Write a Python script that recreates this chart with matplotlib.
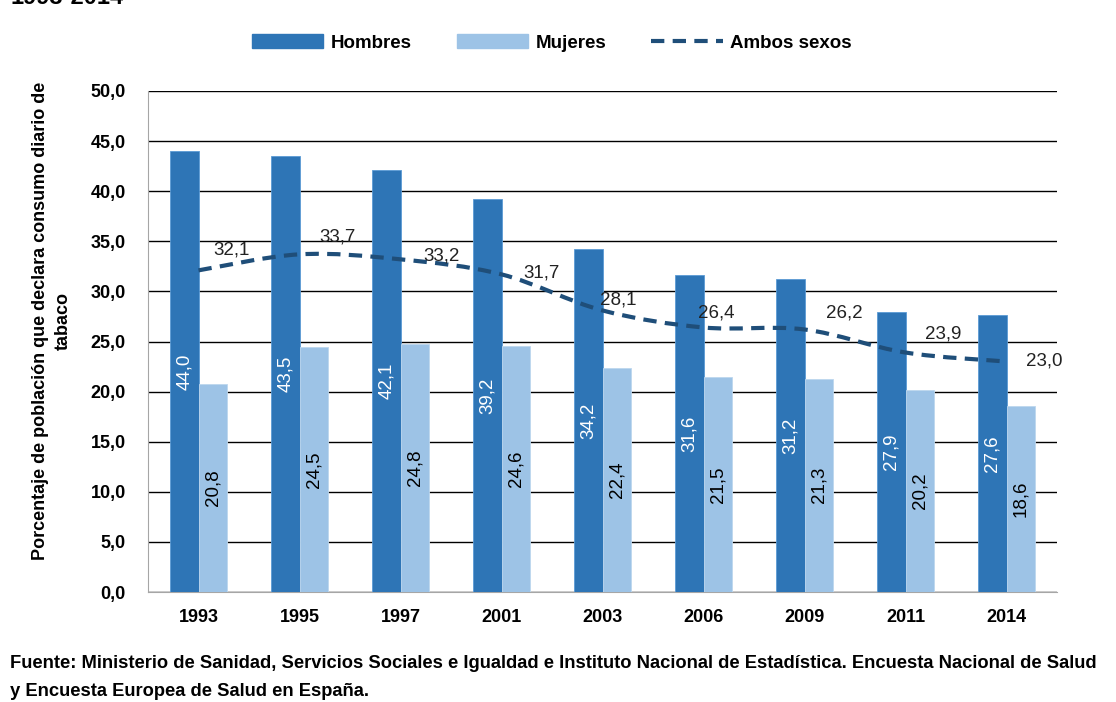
import matplotlib
matplotlib.use("Agg")
import matplotlib.pyplot as plt
from matplotlib.path import Path
from matplotlib.patches import PathPatch
from matplotlib.lines import Line2D
from matplotlib.patches import Patch
import numpy as np

plt.rcParams['font.family'] = ['Liberation Sans', 'DejaVu Sans']

years = ['1993', '1995', '1997', '2001', '2003', '2006', '2009', '2011', '2014']
hombres = [44.0, 43.5, 42.1, 39.2, 34.2, 31.6, 31.2, 27.9, 27.6]
mujeres = [20.8, 24.5, 24.8, 24.6, 22.4, 21.5, 21.3, 20.2, 18.6]
ambos = [32.1, 33.7, 33.2, 31.7, 28.1, 26.4, 26.2, 23.9, 23.0]

# label offsets (pixels) for the line labels
line_label_offsets = [(33, 20), (38, 17), (41, 3), (40, 1), (16, 10), (13, 14), (40, 16), (38, 19), (38, 1)]

c_h = '#2E75B6'
c_m = '#9DC3E6'
c_a = '#1F4E79'

def fmt(v):
    return f"{v:.1f}".replace('.', ',')

fig = plt.figure(figsize=(11.16, 7.02), dpi=100)
ax = fig.add_axes([148/1116, 1-592/702, (1057-148)/1116, (592-91)/702])

x = np.arange(len(years))
w = 0.28
ax.bar(x - w/2, hombres, w, color=c_h, edgecolor='#5B9BD5', linewidth=0.6, zorder=3)
ax.bar(x + w/2, mujeres, w, color=c_m, edgecolor='#BDD7EE', linewidth=0.6, zorder=3)

for xi, v in zip(x, hombres):
    ax.text(xi - w/2, v/2, fmt(v), rotation=90, ha='center', va='center', color='white', fontsize=13.5, zorder=5)
for xi, v in zip(x, mujeres):
    ax.text(xi + w/2, v/2, fmt(v), rotation=90, ha='center', va='center', color='black', fontsize=13.5, zorder=5)

# smooth line (Catmull-Rom -> cubic Bezier), through data points
pts = np.column_stack([x, ambos]).astype(float)
verts = [tuple(pts[0])]
codes = [Path.MOVETO]
n = len(pts)
for i in range(n - 1):
    p0 = pts[i - 1] if i > 0 else pts[i]
    p1 = pts[i]
    p2 = pts[i + 1]
    p3 = pts[i + 2] if i + 2 < n else pts[i + 1]
    c1 = p1 + (p2 - p0) / 6.0
    c2 = p2 - (p3 - p1) / 6.0
    verts += [tuple(c1), tuple(c2), tuple(p2)]
    codes += [Path.CURVE4, Path.CURVE4, Path.CURVE4]
patch = PathPatch(Path(verts, codes), facecolor='none', edgecolor=c_a, linewidth=3.0,
                  linestyle=(0, (3.2, 2.0)), zorder=4)
ax.add_patch(patch)

for xi, v, (dx, dy) in zip(x, ambos, line_label_offsets):
    ax.annotate(fmt(v), (xi, v), xytext=(dx, dy), textcoords='offset pixels',
                ha='center', va='center', fontsize=13.5, color='#222222', zorder=6)

ax.set_xlim(-0.5, len(years) - 0.5)
ax.set_ylim(0, 50)
ax.set_yticks(np.arange(0, 50.1, 5))
ax.set_yticklabels([fmt(v) for v in np.arange(0, 50.1, 5)], fontsize=13, fontweight='bold')
ax.set_xticks(x)
ax.set_xticklabels(years, fontsize=13, fontweight='bold')
ax.tick_params(axis='x', length=0, pad=12)
ax.tick_params(axis='y', length=0, pad=16)
ax.yaxis.grid(True, color='black', linewidth=1.0, zorder=0)
ax.set_axisbelow(True)
for s in ['top', 'right']:
    ax.spines[s].set_visible(False)
ax.spines['left'].set_color('#A6A6A6')
ax.spines['bottom'].set_color('#A6A6A6')

fig.text(52/1116, 1-321/702, 'Porcentaje de población que declara consumo diario de\ntabaco',
         fontsize=13, fontweight='bold', rotation=90, ha='center', va='center',
         multialignment='center', linespacing=1.45)

handles = [Patch(facecolor=c_h, edgecolor=c_h), Patch(facecolor=c_m, edgecolor=c_m),
           Line2D([0], [0], color=c_a, linewidth=3.0, linestyle=(0, (3.2, 2.0)))]
leg = fig.legend(handles, ['Hombres', 'Mujeres', 'Ambos sexos'], loc='center',
                 bbox_to_anchor=(552/1116, 1-43/702), ncol=3, frameon=False,
                 fontsize=13.5, handlelength=3.8, handleheight=0.7, columnspacing=2.4,
                 handletextpad=0.4)
for t in leg.get_texts():
    t.set_fontweight('bold')

fig.text(10/1116, 1-4/702, '1993-2014', fontsize=17, fontweight='bold', va='baseline', ha='left')

fig.text(10/1116, 1-663/702,
         'Fuente: Ministerio de Sanidad, Servicios Sociales e Igualdad e Instituto Nacional de Estadística. Encuesta Nacional de Salud',
         fontsize=13.2, fontweight='bold', va='center', ha='left')
fig.text(10/1116, 1-692/702, 'y Encuesta Europea de Salud en España.',
         fontsize=13.2, fontweight='bold', va='center', ha='left')

fig.savefig('out.png', dpi=100)
